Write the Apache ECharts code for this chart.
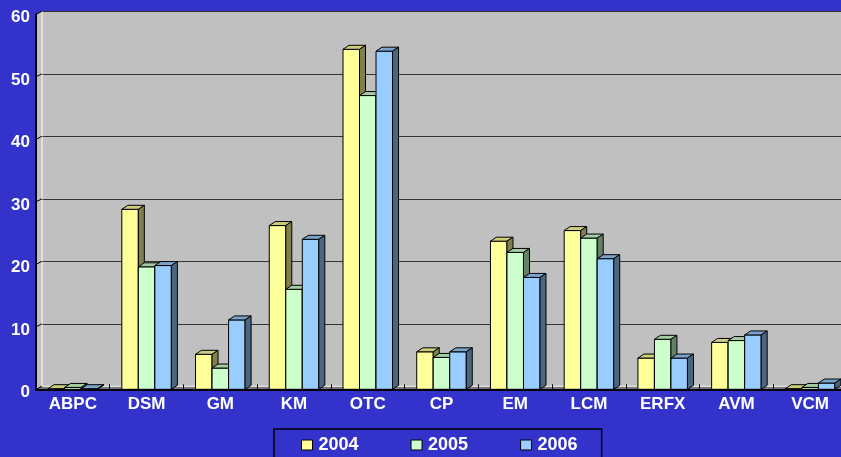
<!DOCTYPE html>
<html>
<head>
<meta charset="utf-8">
<script src="https://cdn.jsdelivr.net/npm/echarts@6/dist/echarts.min.js"></script>
<style>
html,body{margin:0;padding:0;background:#3333CC;}
#chart{width:841px;height:457px;}
</style>
</head>
<body>
<div id="chart"></div>
<script>
var categories = ['ABPC','DSM','GM','KM','OTC','CP','EM','LCM','ERFX','AVM','VCM'];
var years = ['2004','2005','2006'];
var values2004 = [0.1, 28.8, 5.6, 26.2, 54.4, 6.0, 23.7, 25.4, 5.0, 7.5, 0.1];
var values2005 = [0.3, 19.6, 3.4, 16.0, 47.0, 5.1, 21.9, 24.2, 8.0, 7.8, 0.3];
var values2006 = [0.1, 19.8, 11.1, 24.0, 54.1, 6.0, 17.9, 20.9, 5.0, 8.7, 1.0];
var yTicks = [0, 10, 20, 30, 40, 50, 60];

var frontColors = ['#FFFF99', '#CCFFCC', '#99CCFF'];
var topColors = ['#CCCC7A', '#A3CCA3', '#7AA3CC'];
var sideColors = ['#80804D', '#668066', '#4D6680'];
var DX = 6, DY = -4, WDX = 6, WDY = -3;
var FONT = '"Liberation Sans", Arial, sans-serif';

function barRenderer(si) {
  return function (params, api) {
    var ci = api.value(0), v = api.value(1);
    var base = api.coord([ci, 0]);
    var top = api.coord([ci, v]);
    var bw = api.size([1, 0])[0] * 0.224;
    var x0 = base[0] - 1.5 * bw + si * bw;
    var x1 = x0 + bw;
    var yb = base[1], yt = top[1];
    return {
      type: 'group',
      children: [
        {type: 'rect', shape: {x: x0, y: yt, width: bw, height: yb - yt},
          style: {fill: frontColors[si], stroke: '#000', lineWidth: 1}},
        {type: 'polygon', shape: {points: [[x0, yt], [x0 + DX, yt + DY], [x1 + DX, yt + DY], [x1, yt]]},
          style: {fill: topColors[si], stroke: '#000', lineWidth: 1}},
        {type: 'polygon', shape: {points: [[x1, yt], [x1 + DX, yt + DY], [x1 + DX, yb + DY], [x1, yb]]},
          style: {fill: sideColors[si], stroke: '#000', lineWidth: 1}}
      ]
    };
  };
}

function wallRenderer(params, api) {
  var cs = params.coordSys;
  var v = api.value(1);
  var y = api.coord([0, v])[1];
  var children = [];
  if (params.dataIndex === 0) {
    var yb = cs.y + cs.height;
    children.push({type: 'polygon', shape: {points: [[cs.x, cs.y], [cs.x + WDX, cs.y + WDY], [cs.x + WDX, yb + WDY], [cs.x, yb]]},
      style: {fill: '#C0C0C0'}});
    children.push({type: 'polygon', shape: {points: [[cs.x, yb], [cs.x + WDX, yb + WDY], [cs.x + cs.width + WDX, yb + WDY], [cs.x + cs.width, yb]]},
      style: {fill: '#777777'}});
    children.push({type: 'line', shape: {x1: cs.x + WDX, y1: yb + WDY, x2: cs.x + cs.width + WDX, y2: yb + WDY},
      style: {stroke: '#FFFFFF', lineWidth: 1}});
    children.push({type: 'line', shape: {x1: cs.x + WDX, y1: cs.y + WDY, x2: cs.x + WDX, y2: yb + WDY},
      style: {stroke: '#FFFFFF', lineWidth: 1}});
  }
  children.push({type: 'line', shape: {x1: cs.x, y1: y, x2: cs.x + WDX, y2: y + WDY},
    style: {stroke: '#000', lineWidth: 1}});
  return {type: 'group', children: children};
}

function toData(arr) { return arr.map(function (v, i) { return [i, v]; }); }
var seriesValues = [values2004, values2005, values2006];

var series = [{
  type: 'custom', name: 'walls', xAxisIndex: 0, yAxisIndex: 0, z: 1, silent: true,
  renderItem: wallRenderer,
  data: yTicks.map(function (v) { return [0, v]; })
}];
years.forEach(function (y, si) {
  series.push({
    type: 'custom', name: y, xAxisIndex: 0, yAxisIndex: 0, z: 2 + si,
    renderItem: barRenderer(si),
    itemStyle: {color: frontColors[si], borderColor: '#000', borderWidth: 1},
    encode: {x: 0, y: 1},
    data: toData(seriesValues[si])
  });
});

var chart = echarts.init(document.getElementById('chart'), null, {renderer: 'canvas'});
chart.setOption({
  backgroundColor: '#3333CC',
  animation: false,
  grid: [
    {left: 36, width: 811, top: 14.3, height: 375, show: false, containLabel: false, outerBoundsMode: 'none'},
    {left: 42, width: 811, top: 11.3, height: 375, show: true, backgroundColor: '#C0C0C0', borderWidth: 0, z: 0, outerBoundsMode: 'none'}
  ],
  xAxis: [
    {type: 'category', gridIndex: 0, data: categories, boundaryGap: true,
      axisLine: {show: true, lineStyle: {color: '#000', width: 2}},
      axisTick: {show: true, inside: true, length: 5, lineStyle: {color: '#000', width: 1}},
      axisLabel: {color: '#FFFFFF', fontSize: 17, fontWeight: 'bold', fontFamily: FONT, margin: 7},
      splitLine: {show: false}, z: 10},
    {type: 'category', gridIndex: 1, data: categories, show: false}
  ],
  yAxis: [
    {type: 'value', gridIndex: 0, min: 0, max: 60, interval: 10,
      axisLine: {show: true, lineStyle: {color: '#000', width: 2}},
      axisTick: {show: false},
      axisLabel: {color: '#FFFFFF', fontSize: 17, fontWeight: 'bold', fontFamily: FONT, margin: 6,
        verticalAlign: 'top', lineHeight: 7},
      splitLine: {show: false}, z: 10},
    {type: 'value', gridIndex: 1, min: 0, max: 60, interval: 10,
      axisLine: {show: false}, axisTick: {show: false}, axisLabel: {show: false},
      splitLine: {show: true, lineStyle: {color: '#333333', width: 1}}}
  ],
  legend: {
    data: years.map(function (y, si) {
      return {name: y, icon: 'rect', itemStyle: {color: frontColors[si], borderColor: '#000', borderWidth: 1}};
    }),
    left: 274, top: 429,
    orient: 'horizontal',
    padding: [7, 24, 14, 27],
    itemWidth: 11, itemHeight: 10, itemGap: 52,
    borderColor: '#000', borderWidth: 1.5,
    backgroundColor: 'transparent',
    textStyle: {color: '#FFFFFF', fontSize: 18, fontWeight: 'bold', fontFamily: FONT, padding: [0, 0, 0, 1]}
  },
  series: series
});
</script>
</body>
</html>
